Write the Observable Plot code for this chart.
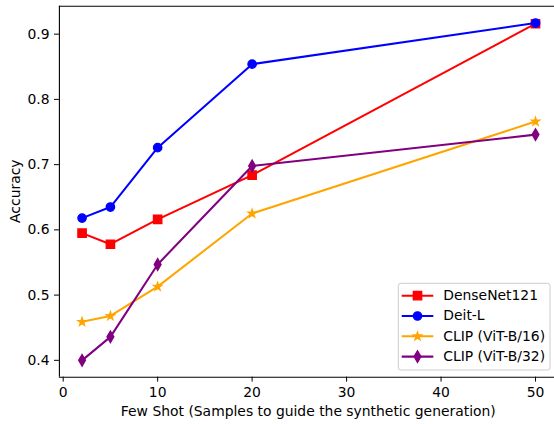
<!DOCTYPE html>
<html>
<head>
<meta charset="utf-8">
<script src="https://cdn.jsdelivr.net/npm/d3@7"></script>
<script src="https://cdn.jsdelivr.net/npm/@observablehq/plot@0.6"></script>
<style>
  html, body { margin: 0; padding: 0; background: #fff; overflow: hidden; }
  #chart { position: relative; width: 554px; height: 424px; overflow: hidden; }
  #chart svg.overlay { position: absolute; left: 0; top: 0; }
</style>
</head>
<body>
<div id="chart"></div>
<script>
// Few-shot accuracy per backbone
const shots = [2, 5, 10, 20, 50];
const seriesNames = ["DenseNet121", "Deit-L", "CLIP (ViT-B/16)", "CLIP (ViT-B/32)"];
const densenet121 = [0.595, 0.578, 0.616, 0.684, 0.916];
const deitL = [0.618, 0.635, 0.726, 0.854, 0.917];
const clipB16 = [0.459, 0.468, 0.513, 0.625, 0.766];
const clipB32 = [0.400, 0.436, 0.547, 0.698, 0.746];
const xTicks = [0, 10, 20, 30, 40, 50];
const yTicks = [0.4, 0.5, 0.6, 0.7, 0.8, 0.9];
const xLabel = "Few Shot (Samples to guide the synthetic generation)";
const yLabel = "Accuracy";

const seriesValues = [densenet121, deitL, clipB16, clipB32];
const seriesColors = ["#ff0000", "#0000ff", "#ffa500", "#800080"];
const seriesSymbols = ["square", "circle", "star", "diamond"];
// radius per symbol so every marker has roughly the same visual size
const symbolRadius = { square: 4.7, circle: 4.17, star: 2.5, diamond: 3.55 };
const LINE_W = 2.05, EDGE_W = 1.35, TICK = 4.9;

const rows = seriesNames.map((name, i) =>
  shots.map((shot, j) => ({ series: name, shot, acc: seriesValues[i][j] }))
);

// autoscale with 5% padding on each side
function padded(vals) {
  const lo = d3.min(vals), hi = d3.max(vals), pad = (hi - lo) * 0.05;
  return [lo - pad, hi + pad];
}
const xDomain = padded(shots);
const yDomain = padded(seriesValues.flat());

const W = 554, H = 424;
const M = { left: 58.9, top: 5.7, bottom: 47.3, right: -3.7 };
const FONT = "DejaVu Sans";
const FS = 13.9;

const seriesMarks = rows.flatMap((data, i) => [
  Plot.line(data, {
    x: "shot", y: "acc",
    stroke: seriesColors[i], strokeWidth: LINE_W, strokeLinejoin: "round"
  }),
  Plot.dot(data, {
    x: "shot", y: "acc",
    symbol: () => seriesSymbols[i],
    r: symbolRadius[seriesSymbols[i]],
    fill: seriesColors[i], stroke: seriesColors[i], strokeWidth: EDGE_W
  })
]);

const plot = Plot.plot({
  width: W, height: H,
  marginLeft: M.left, marginTop: M.top, marginBottom: M.bottom, marginRight: M.right,
  x: { domain: xDomain, range: [M.left, W - M.right] },
  y: { domain: yDomain, range: [H - M.bottom, M.top] },
  symbol: { type: "identity" },
  style: { fontFamily: FONT, fontSize: FS + "px", color: "black", background: "white" },
  marks: [
    Plot.axisX({ ticks: xTicks, tickSize: TICK, tickPadding: TICK, tickFormat: d => String(d),
      label: null, fontSize: FS, fontFamily: FONT, fill: "black" }),
    Plot.axisY({ ticks: yTicks, tickSize: TICK, tickPadding: TICK, tickFormat: d => d.toFixed(1),
      label: null, fontSize: FS, fontFamily: FONT, fill: "black" }),
    ...seriesMarks,
    // axes spines at the ends of each domain
    Plot.ruleX(xDomain, { stroke: "black", strokeWidth: 1.1 }),
    Plot.ruleY(yDomain, { x1: xDomain[0], x2: xDomain[1], stroke: "black", strokeWidth: 1.1 })
  ]
});

const chart = document.getElementById("chart");
chart.appendChild(plot);

// axis titles and legend live in an overlay svg of the same size
const overlay = d3.select(chart).append("svg")
  .attr("class", "overlay")
  .attr("width", W).attr("height", H)
  .attr("font-family", FONT).attr("font-size", FS);

const frameCx = (M.left + W - M.right) / 2;
const frameCy = (M.top + H - M.bottom) / 2;
overlay.append("text")
  .attr("x", frameCx).attr("y", 416.2)
  .attr("text-anchor", "middle").attr("fill", "black")
  .text(xLabel);
overlay.append("text")
  .attr("transform", `translate(20.3,${frameCy}) rotate(-90)`)
  .attr("text-anchor", "middle").attr("fill", "black")
  .text(yLabel);

// legend in the lower right corner of the axes
const lg = { x: 398.3, y: 283.3, w: 151.7, h: 86.7, row0: 295.7, rowStep: 20.3 };
const legend = overlay.append("g");
legend.append("rect")
  .attr("x", lg.x).attr("y", lg.y).attr("width", lg.w).attr("height", lg.h)
  .attr("rx", 2.5).attr("ry", 2.5)
  .attr("fill", "white").attr("fill-opacity", 0.8)
  .attr("stroke", "#cccccc").attr("stroke-width", 1);
const d3Symbols = { square: d3.symbolSquare, circle: d3.symbolCircle, star: d3.symbolStar, diamond: d3.symbolDiamond };
seriesNames.forEach((name, i) => {
  const cy = lg.row0 + i * lg.rowStep;
  const sym = seriesSymbols[i];
  const r = symbolRadius[sym];
  legend.append("line")
    .attr("x1", 401.7).attr("x2", 433.3).attr("y1", cy).attr("y2", cy)
    .attr("stroke", seriesColors[i]).attr("stroke-width", LINE_W);
  legend.append("path")
    .attr("d", d3.symbol(d3Symbols[sym], r * r * Math.PI)())
    .attr("transform", `translate(417.5,${cy})`)
    .attr("fill", seriesColors[i]).attr("stroke", seriesColors[i]).attr("stroke-width", EDGE_W);
  legend.append("text")
    .attr("x", 443.3).attr("y", cy + 4.4)
    .attr("text-anchor", "start").attr("fill", "black")
    .text(name);
});
</script>
</body>
</html>
